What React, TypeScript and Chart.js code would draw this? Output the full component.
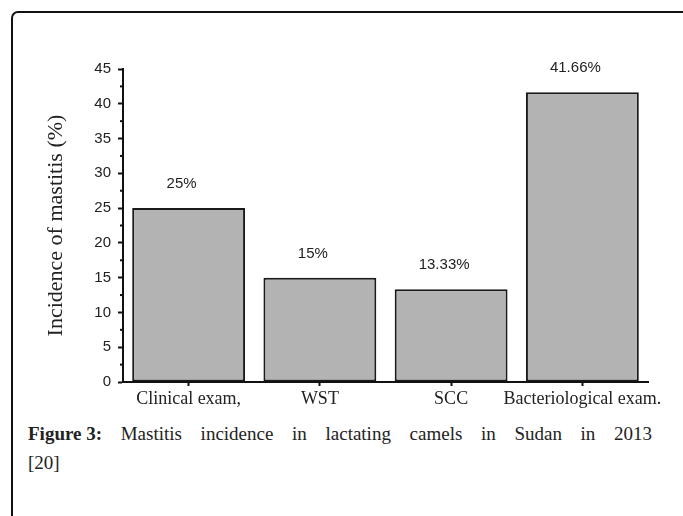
import React, { useEffect, useRef } from "react";
import { Chart, registerables } from "chart.js";

Chart.register(...registerables);

const categories = ["Clinical exam,", "WST", "SCC", "Bacteriological exam."];
const incidence = [25, 15, 13.33, 41.66];
const valueLabels = ["25%", "15%", "13.33%", "41.66%"];
const yTicks = [0, 5, 10, 15, 20, 25, 30, 35, 40, 45];
const yMinorTicks = [2.5, 7.5, 12.5, 17.5, 22.5, 27.5, 32.5, 37.5, 42.5];
const yTitle = "Incidence of mastitis (%)";
const captionBold = "Figure 3:";
const captionText = " Mastitis incidence in lactating camels in Sudan in 2013";
const captionRef = "[20]";

const valueLabelPlugin = {
  id: "valueLabels",
  afterDatasetsDraw(chart: any) {
    const ctx = chart.ctx;
    const meta = chart.getDatasetMeta(0);
    ctx.save();
    ctx.font = "15px 'Liberation Sans', Arial, sans-serif";
    ctx.fillStyle = "#222";
    ctx.textAlign = "center";
    ctx.textBaseline = "middle";
    meta.data.forEach((bar: any, i: number) => {
      ctx.fillText(valueLabels[i], bar.x - 7, bar.y - 24);
    });
    ctx.restore();
  },
};

const minorTickPlugin = {
  id: "minorTicks",
  afterDraw(chart: any) {
    const ctx = chart.ctx;
    const y = chart.scales.y;
    const x0 = chart.chartArea.left;
    ctx.save();
    ctx.strokeStyle = "#111";
    ctx.lineWidth = 2;
    yMinorTicks.forEach((v) => {
      const py = y.getPixelForValue(v);
      ctx.beginPath();
      ctx.moveTo(x0 - 3, py);
      ctx.lineTo(x0, py);
      ctx.stroke();
    });
    ctx.restore();
  },
};

export default function App() {
  const canvasRef = useRef<HTMLCanvasElement | null>(null);

  useEffect(() => {
    if (!canvasRef.current) return;
    const chart = new Chart(canvasRef.current, {
      type: "bar",
      data: {
        labels: categories,
        datasets: [
          {
            data: incidence,
            backgroundColor: "#b3b3b3",
            borderColor: "#1a1a1a",
            borderWidth: 2,
            borderSkipped: false,
            barPercentage: 0.86,
            categoryPercentage: 1,
          },
        ],
      },
      options: {
        animation: false,
        responsive: false,
        devicePixelRatio: 1,
        layout: { padding: { left: 38, top: 69, right: 35, bottom: 0 } },
        plugins: {
          legend: { display: false },
          tooltip: { enabled: false },
        },
        scales: {
          x: {
            offset: true,
            grid: {
              offset: false,
              drawOnChartArea: false,
              drawTicks: true,
              tickLength: 4,
              tickColor: "#111",
              tickWidth: 2,
            },
            border: { display: true, color: "#111", width: 2 },
            ticks: {
              autoSkip: false,
              maxRotation: 0,
              minRotation: 0,
              padding: 2,
              color: "#222",
              font: { family: "'Liberation Serif', 'Times New Roman', serif", size: 18 },
            },
            afterFit(scale: any) {
              scale.height = 30;
            },
          },
          y: {
            min: 0,
            max: 45,
            afterBuildTicks(scale: any) {
              scale.ticks = yTicks.map((v) => ({ value: v }));
            },
            grid: {
              drawOnChartArea: false,
              drawTicks: true,
              tickLength: 5,
              tickColor: "#111",
              tickWidth: 2,
            },
            border: { display: true, color: "#111", width: 2 },
            ticks: {
              padding: 7,
              color: "#222",
              font: { family: "'Liberation Sans', Arial, sans-serif", size: 15 },
            },
            title: {
              display: true,
              text: yTitle,
              color: "#222",
              padding: { top: 5, bottom: 0 },
              font: { family: "'Liberation Serif', 'Times New Roman', serif", size: 22, weight: "normal" },
            },
            afterFit(scale: any) {
              scale.width = 85;
            },
          },
        },
      },
      plugins: [valueLabelPlugin, minorTickPlugin],
    });
    return () => chart.destroy();
  }, []);

  return (
    <div
      style={{
        position: "absolute",
        left: 0,
        top: 0,
        width: 683,
        height: 516,
        overflow: "hidden",
        background: "#fff",
      }}
    >
      <div
        style={{
          position: "absolute",
          left: 11,
          top: 11,
          width: 720,
          height: 600,
          border: "2px solid #111",
          borderRadius: 7,
          boxSizing: "border-box",
        }}
      />
      <canvas
        ref={canvasRef}
        width={683}
        height={412}
        style={{ position: "absolute", left: 0, top: 0, width: 683, height: 412 }}
      />
      <div
        style={{
          position: "absolute",
          left: 28,
          top: 419,
          width: 624,
          fontFamily: "'Liberation Serif', 'Times New Roman', serif",
          fontSize: 19,
          lineHeight: "29px",
          color: "#222",
        }}
      >
        <div style={{ textAlign: "justify", textAlignLast: "justify" }}>
          <span style={{ display: "inline-block", fontWeight: "bold", fontSize: 19 }}>{captionBold}</span>
          {captionText}
        </div>
        <div>{captionRef}</div>
      </div>
    </div>
  );
}
